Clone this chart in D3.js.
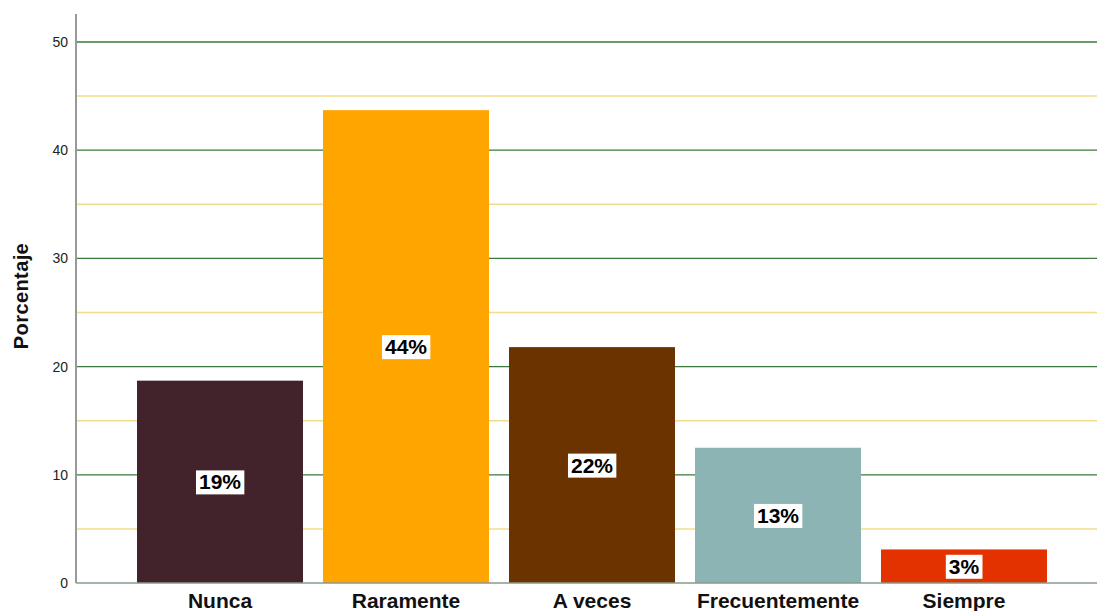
<!DOCTYPE html>
<html><head><meta charset="utf-8">
<script src="https://cdn.jsdelivr.net/npm/d3@7"></script>
<style>body{margin:0;background:#fff;}svg{display:block;font-family:"Liberation Sans",Arial,sans-serif;}</style>
</head><body>
<svg id="c" width="1097" height="611"></svg>
<script>
const categories = ["Nunca","Raramente","A veces","Frecuentemente","Siempre"];
const values = [18.7, 43.7, 21.8, 12.5, 3.1];
const labels = ["19%","44%","22%","13%","3%"];
const colors = ["#42222b","#ffa500","#6b3300","#8cb4b4","#e33200"];
const yTicks = [0,10,20,30,40,50];
const yMinor = [5,15,25,35,45];

const svg = d3.select("#c");
const x = d3.scaleBand().domain(categories).range([127,1057]).paddingInner(20/186).paddingOuter(0.0538);
const y = d3.scaleLinear().domain([0,50]).range([583,42]);
const x0 = 76, x1 = 1097;

svg.selectAll(".minor").data(yMinor).enter().append("line")
  .attr("x1",x0).attr("x2",x1).attr("y1",d=>y(d)).attr("y2",d=>y(d))
  .attr("stroke","#f0dc8c").attr("stroke-width",1.5);
svg.selectAll(".major").data(yTicks.filter(d=>d>0)).enter().append("line")
  .attr("x1",x0).attr("x2",x1).attr("y1",d=>y(d)).attr("y2",d=>y(d))
  .attr("stroke","#3a7a3a").attr("stroke-width",1.3);

svg.selectAll(".bar").data(categories).enter().append("rect")
  .attr("x",d=>x(d)).attr("width",x.bandwidth())
  .attr("y",(d,i)=>y(values[i])).attr("height",(d,i)=>y(0)-y(values[i]))
  .attr("fill",(d,i)=>colors[i]);

// axes
svg.append("line").attr("x1",x0).attr("x2",x1).attr("y1",y(0)).attr("y2",y(0)).attr("stroke","#8a9a8a").attr("stroke-width",1.5);
svg.append("line").attr("x1",x0).attr("x2",x0).attr("y1",14).attr("y2",y(0)).attr("stroke","#999").attr("stroke-width",2);

const yAxis = svg.append("g").attr("transform",`translate(${x0},0)`)
  .call(d3.axisLeft(y).tickValues(yTicks).tickSize(0).tickPadding(8));
yAxis.select(".domain").remove();
yAxis.selectAll("text").attr("font-size",14).attr("fill","#222").attr("font-family","'Liberation Sans',Arial,sans-serif");

const xAxis = svg.append("g").attr("transform",`translate(0,${y(0)})`)
  .call(d3.axisBottom(x).tickSize(0).tickPadding(8));
xAxis.select(".domain").remove();
xAxis.selectAll("text").attr("font-size",21).attr("font-weight","bold").attr("fill","#111").attr("font-family","'Liberation Sans',Arial,sans-serif").attr("y",25).attr("dy",0);

svg.append("text").attr("transform","translate(28,296) rotate(-90)")
  .attr("text-anchor","middle").attr("font-size",20).attr("letter-spacing",0.4).attr("font-weight","bold").attr("fill","#111").text("Porcentaje");

// value labels
const lg = svg.selectAll(".lbl").data(categories).enter().append("g")
  .attr("transform",(d,i)=>`translate(${x(d)+x.bandwidth()/2},${(y(values[i])+y(0))/2})`);
lg.append("text").attr("text-anchor","middle").attr("dy","0.36em")
  .attr("font-size",21).attr("font-weight","bold").attr("fill","#000").text((d,i)=>labels[i]);
lg.each(function(){
  const g = d3.select(this); const b = g.select("text").node().getBBox();
  g.insert("rect","text").attr("x",b.x-3).attr("y",b.y).attr("width",b.width+6).attr("height",b.height+1).attr("fill","#fff");
});
</script>
</body></html>
